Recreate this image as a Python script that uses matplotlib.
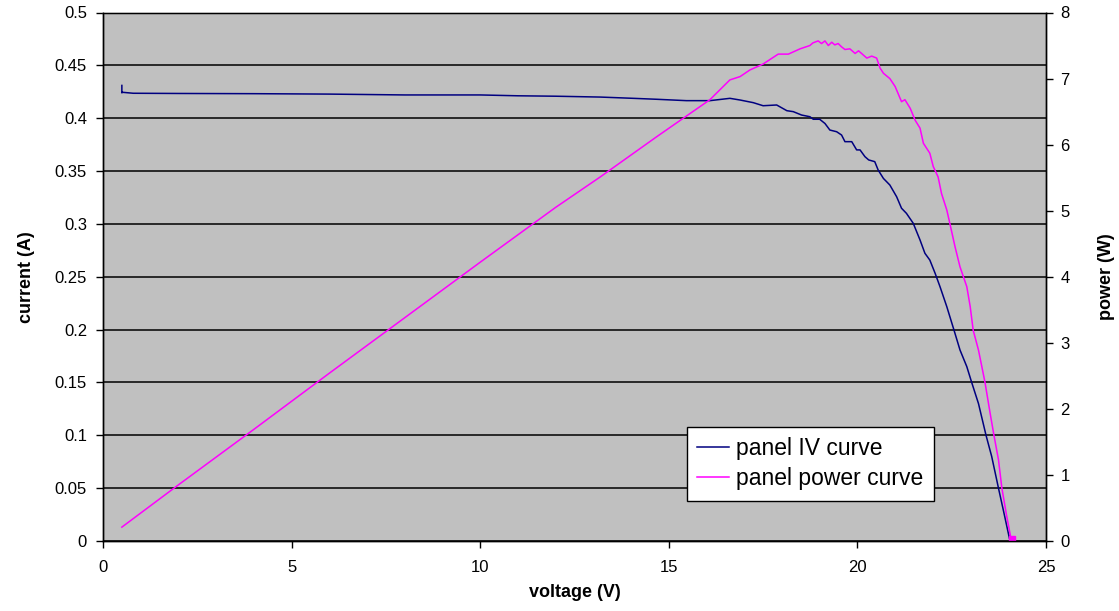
import matplotlib
matplotlib.use("Agg")
import matplotlib.pyplot as plt
from matplotlib.ticker import MultipleLocator, FuncFormatter

plt.rcParams['font.family'] = ['Liberation Sans', 'DejaVu Sans']

# ---- data ----
iv_voltage = [0.5, 0.5, 0.52, 0.8, 2, 4, 6, 8, 10, 11, 12, 13.18, 14.06, 14.68, 15.47,
              16.09, 16.62, 16.89, 17.24, 17.5, 17.86, 18.13, 18.3, 18.52, 18.74, 18.83,
              19.0, 19.14, 19.27, 19.45, 19.58, 19.67, 19.85, 19.98, 20.07, 20.2, 20.3,
              20.46, 20.55, 20.69, 20.86, 21.04, 21.17, 21.3, 21.48, 21.66, 21.79, 21.92,
              22.06, 22.19, 22.37, 22.56, 22.72, 22.9, 23.03, 23.21, 23.41, 23.56, 23.74,
              23.87, 24.03]
iv_current = [0.431, 0.424, 0.4245, 0.4236, 0.4234, 0.4232, 0.4228, 0.422, 0.422, 0.4212,
              0.4208, 0.420, 0.4188, 0.4179, 0.4166, 0.4166, 0.4188, 0.4172, 0.4147, 0.4118,
              0.4125, 0.4071, 0.4062, 0.403, 0.4014, 0.399, 0.399, 0.395, 0.3888, 0.3872,
              0.3841, 0.3778, 0.3778, 0.370, 0.370, 0.3636, 0.3605, 0.3589, 0.351, 0.343,
              0.3368, 0.3257, 0.3148, 0.31, 0.3006, 0.2848, 0.2722, 0.2658, 0.2533, 0.2406,
              0.2217, 0.1996, 0.1807, 0.165, 0.150, 0.130, 0.100, 0.080, 0.050, 0.029, 0.0026]

pw_voltage = [0.5, 2, 4, 6, 8, 10, 12, 13.18, 14.68, 16.09, 16.62, 16.89, 17.15, 17.5, 17.9,
              18.17, 18.48, 18.74, 18.82, 18.96, 19.05, 19.14, 19.23, 19.32, 19.4, 19.49,
              19.58, 19.67, 19.8, 19.94, 20.03, 20.25, 20.38, 20.51, 20.6, 20.69, 20.86, 21.0,
              21.17, 21.26, 21.4, 21.53, 21.66, 21.75, 21.92, 22.01, 22.14, 22.23, 22.37,
              22.45, 22.59, 22.72, 22.81, 22.9, 22.99, 23.07, 23.21, 23.38, 23.52, 23.62,
              23.74, 23.83, 23.96, 24.06, 24.1]
pw_power = [0.21, 0.85, 1.69, 2.54, 3.38, 4.22, 5.05, 5.51, 6.12, 6.68, 6.98, 7.03, 7.13,
            7.22, 7.37, 7.37, 7.45, 7.50, 7.54, 7.57, 7.53, 7.57, 7.50, 7.55, 7.51, 7.53,
            7.48, 7.44, 7.45, 7.38, 7.42, 7.31, 7.34, 7.31, 7.16, 7.08, 7.0, 6.88, 6.65,
            6.68, 6.55, 6.37, 6.25, 6.02, 5.87, 5.67, 5.51, 5.26, 5.01, 4.81, 4.45, 4.15,
            4.0, 3.85, 3.55, 3.19, 2.89, 2.41, 1.93, 1.60, 1.23, 0.80, 0.37, 0.07, 0.03]

x_label = "voltage (V)"
y_label = "current (A)"
y2_label = "power (W)"
iv_name = "panel IV curve"
pw_name = "panel power curve"

# ---- figure ----
fig = plt.figure(figsize=(11.19, 6.11), dpi=100)
ax = fig.add_axes([103/1119, 1 - 541/611, (1046 - 103)/1119, (541 - 12.5)/611])
ax.set_facecolor('#C0C0C0')
ax2 = ax.twinx()

l1, = ax.plot(iv_voltage, iv_current, color='#000080', lw=1.1, label=iv_name)
l2, = ax2.plot(pw_voltage, pw_power, color='#FF00FF', lw=1.1, label=pw_name)
ax2.plot(pw_voltage[-1:], pw_power[-1:], marker='s', ms=4, color='#FF00FF', lw=0)

ax.set_xlim(0, 25)
ax.set_ylim(0, 0.5)
ax2.set_ylim(0, 8)
ax.xaxis.set_major_locator(MultipleLocator(5))
ax.yaxis.set_major_locator(MultipleLocator(0.05))
ax2.yaxis.set_major_locator(MultipleLocator(1))
ax.yaxis.set_major_formatter(FuncFormatter(lambda v, p: ('%.2f' % v).rstrip('0').rstrip('.') if v else '0'))

ax.grid(axis='y', color='black', lw=1.1)
ax.set_axisbelow(True)
for a in (ax, ax2):
    a.tick_params(direction='out', length=5, width=1, labelsize=12, color='black')
    for s in a.spines.values():
        s.set_color('black')
        s.set_linewidth(1.0)
ax.spines['top'].set_color('#808080')
ax.tick_params(axis='x', pad=8.5)
ax.tick_params(axis='y', pad=6.5)
ax2.tick_params(axis='y', pad=5.5)

ax.set_xlabel(x_label, fontsize=13, fontweight='bold', labelpad=6.5)
ax.set_ylabel(y_label, fontsize=13, fontweight='bold', labelpad=14)
ax2.set_ylabel(y2_label, fontsize=13, fontweight='bold', rotation=90, labelpad=20)

leg = ax2.legend([l1, l2], [iv_name, pw_name], loc='upper left',
                 bbox_to_anchor=((687 - 103)/943, (541 - 427)/528.5),
                 fontsize=16.5, frameon=True, fancybox=False, framealpha=1,
                 edgecolor='black', handlelength=1.4, handletextpad=0.3,
                 borderpad=0.45, labelspacing=0.3, borderaxespad=0)
leg.get_frame().set_linewidth(1.0)

fig.savefig('out.png', dpi=100)
